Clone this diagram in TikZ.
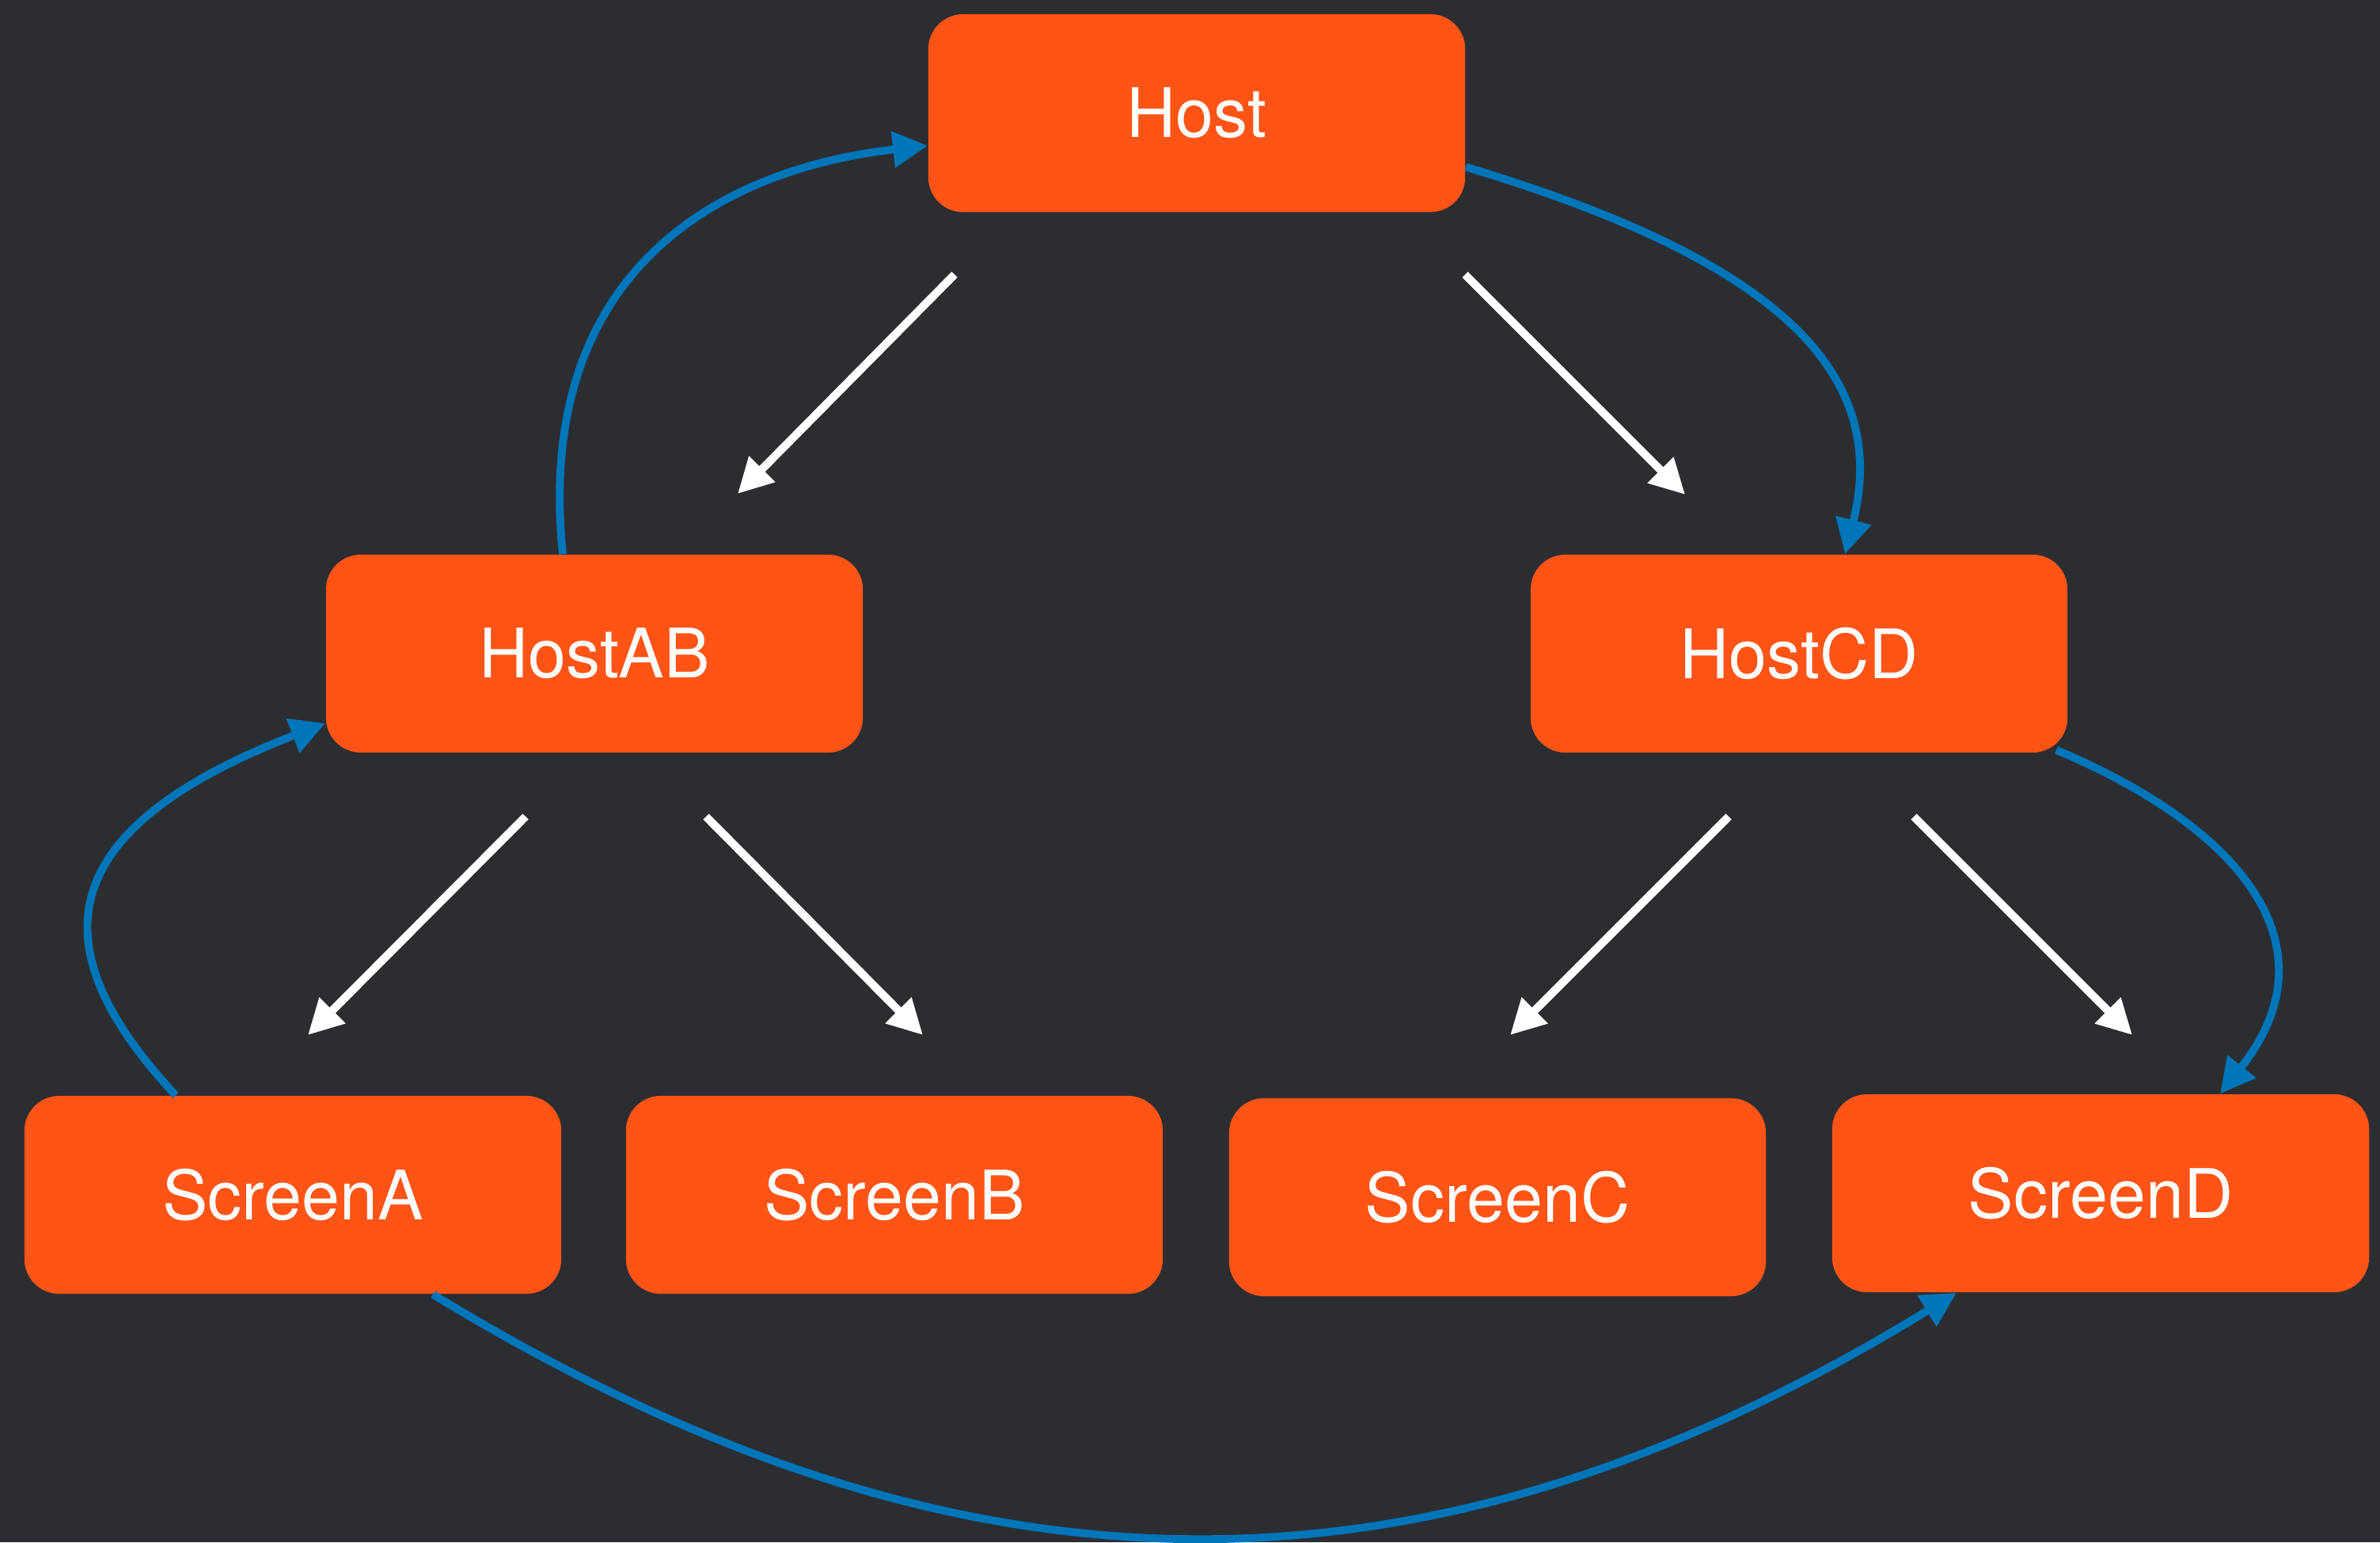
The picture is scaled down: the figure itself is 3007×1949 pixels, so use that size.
\documentclass[tikz,border=0pt]{standalone}
\usepackage{fontspec}
\setmainfont{TeX Gyre Heros}
\usetikzlibrary{arrows.meta,calc}
\definecolor{bgdark}{RGB}{44,45,49}
\definecolor{boxorange}{RGB}{255,84,22}
\definecolor{linkblue}{RGB}{0,118,186}
\tikzset{
  box/.style={draw=none, fill=boxorange, rounded corners=0.44cm,
    minimum width=6.78cm, minimum height=2.5cm, inner sep=0pt,
    text=white, font=\fontsize{24.5}{29}\selectfont},
  tree/.style={draw=white, line width=2.9pt,
    -{Triangle[length=0.44cm,width=0.44cm]}},
  link/.style={draw=linkblue, line width=2.8pt,
    -{Triangle[length=0.44cm,width=0.44cm]}}
}
\begin{document}
\begin{tikzpicture}[x=0.01cm,y=-0.01cm]
  % canvas
  \fill[bgdark] (0,0) rectangle (3007,1949);
  \useasboundingbox (0,0) rectangle (3007,1949);

  % nodes
  \node[box] (host)    at (1512,143)  {Host};
  \node[box] (hostab)  at (751,826)   {HostAB};
  \node[box] (hostcd)  at (2273,826)  {HostCD};
  \node[box] (screena) at (370,1510)  {ScreenA};
  \node[box] (screenb) at (1130,1510) {ScreenB};
  \node[box] (screenc) at (1892,1513) {ScreenC};
  \node[box] (screend) at (2654,1508) {ScreenD};

  % hierarchy arrows (free-standing)
  \coordinate (t1s) at (1206,347);  \coordinate (t1e) at (932,624);
  \coordinate (t2s) at (1851,347);  \coordinate (t2e) at (2129,625);
  \coordinate (t3s) at (664,1032);  \coordinate (t3e) at (389,1308);
  \coordinate (t4s) at (892,1032);  \coordinate (t4e) at (1166,1308);
  \coordinate (t5s) at (2184,1032); \coordinate (t5e) at (1908,1308);
  \coordinate (t6s) at (2418,1032); \coordinate (t6e) at (2694,1308);
  \foreach \i in {1,...,6} \draw[tree] (t\i s) -- (t\i e);

  % signal links
  \draw[link] ($(hostab.north)+(-40,0)$)
    .. controls (675,350) and (900,215) .. ($(host.west)+(0,41)$);
  \draw[link] ($(host.east)+(0,68)$)
    .. controls (2200,316) and (2395,448) .. ($(hostcd.north)+(58,0)$);
  \draw[link] ($(screena.north)+(-148,0)$)
    .. controls (50,1200) and (60,1050) .. ($(hostab.west)+(0,88)$);
  \draw[link] ($(hostcd.south east)+(-15,-4)$)
    .. controls (2840,1050) and (2950,1200) .. ($(screend.north)+(151,0)$);
  \draw[link] ($(screena.south)+(177,0)$)
    .. controls (1217,2045) and (1802,2045) .. ($(screend.south)+(-182,0)$);
\end{tikzpicture}
\end{document}
